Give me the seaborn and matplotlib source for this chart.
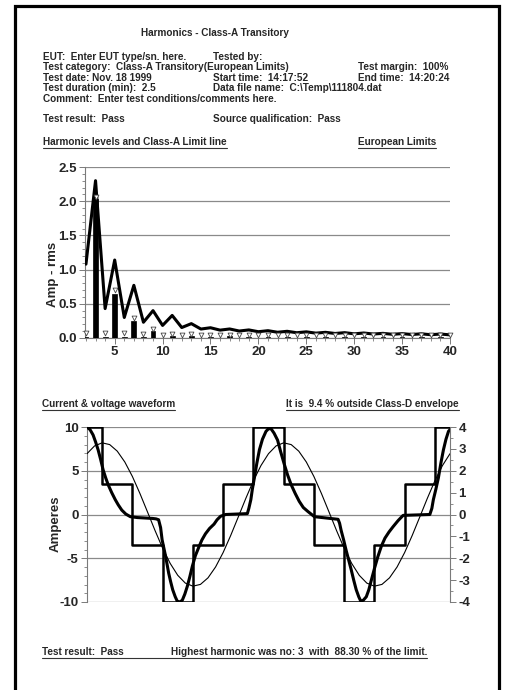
import numpy as np
import pandas as pd
import seaborn as sns
import matplotlib.pyplot as plt
from matplotlib.lines import Line2D
from matplotlib.patches import Rectangle
from matplotlib.ticker import MultipleLocator, FormatStrFormatter

# harmonic numbers 2..40
harm = list(range(2, 41))

# Class-A limit line (Amp rms)
limit = [1.08, 2.30, 0.43, 1.14, 0.30, 0.77, 0.23, 0.40, 0.184, 0.33,
         0.153, 0.21, 0.131, 0.15, 0.115, 0.132, 0.102, 0.118, 0.092, 0.107,
         0.084, 0.098, 0.077, 0.090, 0.071, 0.083, 0.066, 0.078, 0.061, 0.073,
         0.058, 0.068, 0.054, 0.064, 0.051, 0.061, 0.048, 0.058, 0.046]

# measured harmonic levels (bars)
measured = [0.02, 2.03, 0.01, 0.64, 0.01, 0.25, 0.01, 0.10, 0.005, 0.03,
            0.005, 0.03, 0.005, 0.02, 0.005, 0.03, 0.005, 0.02, 0.005, 0.02,
            0.005, 0.02, 0.005, 0.02, 0.005, 0.015, 0.005, 0.015, 0.005, 0.015,
            0.005, 0.015, 0.005, 0.01, 0.005, 0.01, 0.005, 0.01, 0.005]

# maximum harmonic levels (triangles)
maxval = [0.07, 2.06, 0.08, 0.70, 0.07, 0.29, 0.06, 0.13, 0.04, 0.06,
          0.04, 0.06, 0.04, 0.05, 0.04, 0.05, 0.04, 0.05, 0.04, 0.05,
          0.04, 0.05, 0.04, 0.05, 0.04, 0.05, 0.04, 0.045, 0.04, 0.045,
          0.04, 0.045, 0.04, 0.045, 0.04, 0.045, 0.04, 0.045, 0.04]

# waveform, x in degrees (two mains cycles)
cur_deg = [0, 6, 12, 17, 22, 27, 32, 37, 42, 49, 56, 62, 69, 77, 86, 100, 130,
           137, 142, 146, 149, 156, 162, 166, 170, 175, 179, 184, 189, 194, 199, 204, 209,
           215, 222, 228, 235, 243, 252, 258, 265, 275, 318, 321, 325, 328, 332, 337, 342,
           348, 355, 360, 365, 371, 378, 384, 391, 398, 405, 413, 421, 429, 438, 451, 498,
           501, 504, 509, 514, 519, 524, 529, 534, 539, 543, 548, 554, 559, 564, 570, 577,
           584, 591, 599, 607, 617, 627, 680, 684, 687, 692, 697, 702, 707, 712, 717, 720]
cur_val = [10.0, 9.7, 9.1, 8.3, 7.4, 6.3, 5.1, 4.2, 3.4, 2.5, 1.7, 1.1, 0.5, 0.05, -0.25, -0.35, -0.45,
           -0.5, -0.6, -1.5, -2.9, -4.8, -6.7, -7.7, -8.6, -9.4, -9.9, -10.0, -9.8, -9.1, -8.2, -7.1, -5.9,
           -4.7, -3.7, -2.9, -2.2, -1.6, -1.1, -0.6, -0.2, 0.0, 0.1, 0.7, 1.7, 2.9, 4.2, 5.9, 7.4,
           8.6, 9.5, 9.8, 9.8, 9.3, 8.5, 7.2, 5.8, 4.5, 3.4, 2.4, 1.5, 0.8, 0.35, -0.25, -0.55,
           -1.0, -1.8, -2.9, -4.1, -5.2, -6.3, -7.5, -8.6, -9.4, -9.9, -9.8, -9.4, -8.6, -7.5, -6.2, -4.8,
           -3.6, -2.7, -2.0, -1.4, -0.7, -0.1, 0.0, 0.7, 1.7, 2.9, 4.2, 5.9, 7.4, 8.6, 9.5, 9.7]

volt_deg = list(range(0, 721, 15))
volt_val = [6.95, 7.84, 8.19, 7.99, 7.24, 6.0, 4.35, 2.4, 0.29, -1.84, -3.85, -5.59,
            -6.95, -7.84, -8.19, -7.99, -7.24, -6.0, -4.35, -2.4, -0.29, 1.84, 3.85, 5.59,
            6.95, 7.84, 8.19, 7.99, 7.24, 6.0, 4.35, 2.4, 0.29, -1.84, -3.85, -5.59,
            -6.95, -7.84, -8.19, -7.99, -7.24, -6.0, -4.35, -2.4, -0.29, 1.84, 3.85, 5.59,
            6.95]

# Class-D envelope steps
env_deg = [0, 30, 90, 150, 210, 270, 330, 390, 450, 510, 570, 630, 690, 720]
env_val = [10, 3.5, -3.5, -10, -3.5, 3.5, 10, 3.5, -3.5, -10, -3.5, 3.5, 10, 10]

sns.set_style("white")
plt.rcParams['font.family'] = ['Liberation Sans', 'DejaVu Sans']
plt.rcParams['font.weight'] = 'bold'
plt.rcParams['axes.unicode_minus'] = False

W, H = 505, 690
fig = plt.figure(figsize=(W / 100, H / 100), dpi=100)

# page border
fig.patches.append(Rectangle((15 / W, -0.05), (499 - 15) / W, 1 - 5.5 / H + 0.05,
                             transform=fig.transFigure, fill=False, lw=2.3, ec='black'))

FS = 7.2


def put(x, y, s, **kw):
    return fig.text(x / W, 1 - y / H, s, fontsize=FS, fontweight='bold', va='center', **kw)


put(215, 33, "Harmonics - Class-A Transitory", ha='center')
put(43, 57, "EUT:  Enter EUT type/sn. here.")
put(213, 57, "Tested by:")
put(43, 67, "Test category:  Class-A Transitory(European Limits)")
put(358, 67, "Test margin:  100%")
put(43, 78, "Test date: Nov. 18 1999")
put(213, 78, "Start time:  14:17:52")
put(358, 78, "End time:  14:20:24")
put(43, 88, "Test duration (min):  2.5")
put(213, 88, "Data file name:  C:\\Temp\\111804.dat")
put(43, 99, "Comment:  Enter test conditions/comments here.")
put(43, 119, "Test result:  Pass")
put(213, 119, "Source qualification:  Pass")

under = []
under.append([put(43, 142, "Harmonic levels and Class-A Limit line")])
under.append([put(358, 142, "European Limits")])
under.append([put(42, 404, "Current & voltage waveform")])
under.append([put(286, 404, "It is  9.4 % outside Class-D envelope")])
under.append([put(42, 652, "Test result:  Pass"),
              put(171, 652, "Highest harmonic was no: 3  with  88.30 % of the limit.")])

TICK_FS = 9.5
GRID = '#8a8a8a'
SPINE = '#7a7a7a'

# ---- harmonics chart ----
ax1 = fig.add_axes([85 / W, 1 - 338 / H, (450 - 85) / W, (338 - 167) / H])
ax1.bar(harm, measured, width=0.5, color='black', edgecolor='black', lw=0.5, zorder=3)
sns.lineplot(x=harm, y=limit, color='black', lw=2.2, ax=ax1, zorder=4)
sns.scatterplot(x=harm, y=maxval, marker='v', s=12, color='white', edgecolor='#444444',
                linewidth=0.6, ax=ax1, zorder=5, clip_on=False)
ax1.set_ylim(0, 2.5)
ax1.xaxis.set_major_locator(MultipleLocator(5))
ax1.xaxis.set_minor_locator(MultipleLocator(1))
ax1.yaxis.set_major_locator(MultipleLocator(0.5))
ax1.yaxis.set_minor_locator(MultipleLocator(0.1))
ax1.yaxis.set_major_formatter(FormatStrFormatter('%.1f'))
ax1.set_xticks([5, 10, 15, 20, 25, 30, 35, 40])
ax1.set_xlim(1.9, 40)
ax1.yaxis.grid(True, color=GRID, lw=0.9)
ax1.set_axisbelow(True)
for side in ['top', 'right']:
    ax1.spines[side].set_visible(False)
for side in ['left', 'bottom']:
    ax1.spines[side].set_color(SPINE)
    ax1.spines[side].set_linewidth(0.8)
ax1.tick_params(which='major', direction='out', length=4, width=0.7, color=SPINE,
                labelsize=TICK_FS, left=True, bottom=True, pad=2)
ax1.tick_params(which='minor', direction='out', length=2, width=0.6, color=SPINE,
                left=True, bottom=True)
ax1.set_xlabel('')
ax1.set_ylabel("Amp - rms", fontsize=9.5, fontweight='bold')
ax1.yaxis.set_label_coords(-0.07, 0.37)

# ---- waveform chart ----
ax2 = fig.add_axes([87 / W, 1 - 602 / H, (450 - 87) / W, (602 - 427) / H])
sns.lineplot(x=env_deg, y=env_val, color='black', lw=1.8, drawstyle='steps-post',
             estimator=None, sort=False, ax=ax2, zorder=3)
sns.lineplot(x=volt_deg, y=volt_val, color='black', lw=0.8,
             estimator=None, sort=False, ax=ax2, zorder=3)
sns.lineplot(x=cur_deg, y=cur_val, color='black', lw=2.2,
             estimator=None, sort=False, ax=ax2, zorder=4)
ax2.set_xlim(0, 720)
ax2.set_ylim(-10, 10)
ax2.yaxis.set_major_locator(MultipleLocator(5))
ax2.yaxis.set_minor_locator(MultipleLocator(1))
ax2.set_xticks([])
ax2.yaxis.grid(True, color=GRID, lw=0.9)
ax2.set_axisbelow(True)
for side in ['top', 'right', 'bottom']:
    ax2.spines[side].set_visible(False)
ax2.spines['left'].set_color(SPINE)
ax2.spines['left'].set_linewidth(0.8)
ax2.tick_params(axis='y', which='major', direction='out', length=4, width=0.7, color=SPINE,
                labelsize=TICK_FS, left=True, pad=2)
ax2.tick_params(axis='y', which='minor', direction='out', length=2, width=0.6, color=SPINE,
                left=True)
ax2.set_xlabel('')
ax2.set_ylabel("Amperes", fontsize=9.5, fontweight='bold')
ax2.yaxis.set_label_coords(-0.07, 0.45)

ax2r = ax2.twinx()
ax2r.set_ylim(-4, 4)
ax2r.yaxis.set_major_locator(MultipleLocator(1))
ax2r.yaxis.set_minor_locator(MultipleLocator(0.5))
for side in ['top', 'left', 'bottom']:
    ax2r.spines[side].set_visible(False)
ax2r.spines['right'].set_color(SPINE)
ax2r.spines['right'].set_linewidth(0.8)
ax2r.tick_params(axis='y', which='major', direction='out', length=4, width=0.7, color=SPINE,
                 labelsize=TICK_FS, right=True, pad=2)
ax2r.tick_params(axis='y', which='minor', direction='out', length=2, width=0.6, color=SPINE,
                 right=True)
ax2r.grid(False)

fig.canvas.draw()
for grp in under:
    bbs = [t.get_window_extent() for t in grp]
    x0 = min(b.x0 for b in bbs)
    x1 = max(b.x1 for b in bbs)
    y = min(b.y0 for b in bbs) - 0.5
    fig.add_artist(Line2D([x0 / W, x1 / W], [y / H, y / H], transform=fig.transFigure,
                          color='#333333', lw=0.8))

fig.savefig("out.png", dpi=100)
